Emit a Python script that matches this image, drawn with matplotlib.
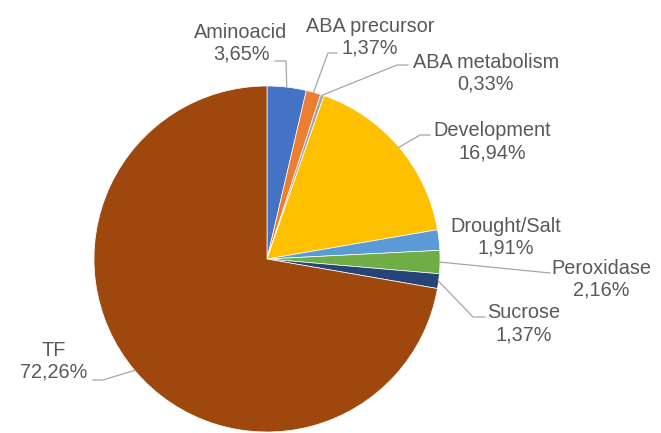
import numpy as np
import matplotlib.pyplot as plt

# gene categories and their share (%)
categories = ['Aminoacid', 'ABA precursor', 'ABA metabolism', 'Development',
              'Drought/Salt', 'Peroxidase', 'Sucrose', 'TF']
shares = [3.65, 1.37, 0.33, 16.94, 1.91, 2.16, 1.37, 72.26]
colors = ['#4472C4', '#ED7D31', '#A5A5A5', '#FFC000',
          '#5B9BD5', '#70AD47', '#264478', '#9E480E']

# label block centres and leader elbows (pixel coords, y down)
label_pos = [(241, 43), (370, 37), (486, 73), (492, 142),
             (506, 237), (601, 279), (524, 324), (54, 361)]
elbows = [[(286, 61), (275, 61)],
          [(328, 53), (337, 53)],
          [(397, 65), (408, 65)],
          [(420, 135), (430, 135)],
          None,
          [(550, 273)],
          [(473, 317), (485, 317)],
          [(103, 380), (93, 380)]]

center = (267, 259)
radius = 173

fig = plt.figure(figsize=(6.61, 4.33), dpi=100)
ax = fig.add_axes([0, 0, 1, 1])

# y axis runs downward, so clockwise-from-top is startangle=-90 counterclock
wedges, _ = ax.pie(shares, colors=colors, startangle=-90, counterclock=True,
                   center=center, radius=radius,
                   wedgeprops=dict(edgecolor='white', linewidth=0.5))
ax.set_xlim(0, 661)
ax.set_ylim(433, 0)
ax.set_aspect('equal')
ax.axis('off')

txt_color = '#595959'
for w, name, val, (tx, ty), elb in zip(wedges, categories, shares, label_pos, elbows):
    ax.text(tx, ty, f"{name}\n{val:.2f}%".replace('.', ','), ha='center', va='center',
            fontsize=14.3, color=txt_color, family='Liberation Sans', linespacing=1.2)
    if elb is None:
        continue
    mid = np.deg2rad((w.theta1 + w.theta2) / 2)
    sx = center[0] + radius * np.cos(mid)
    sy = center[1] + radius * np.sin(mid)
    xs = [sx] + [p[0] for p in elb]
    ys = [sy] + [p[1] for p in elb]
    ax.plot(xs, ys, color='#A6A6A6', lw=0.9)

fig.savefig('out.png', dpi=100)
